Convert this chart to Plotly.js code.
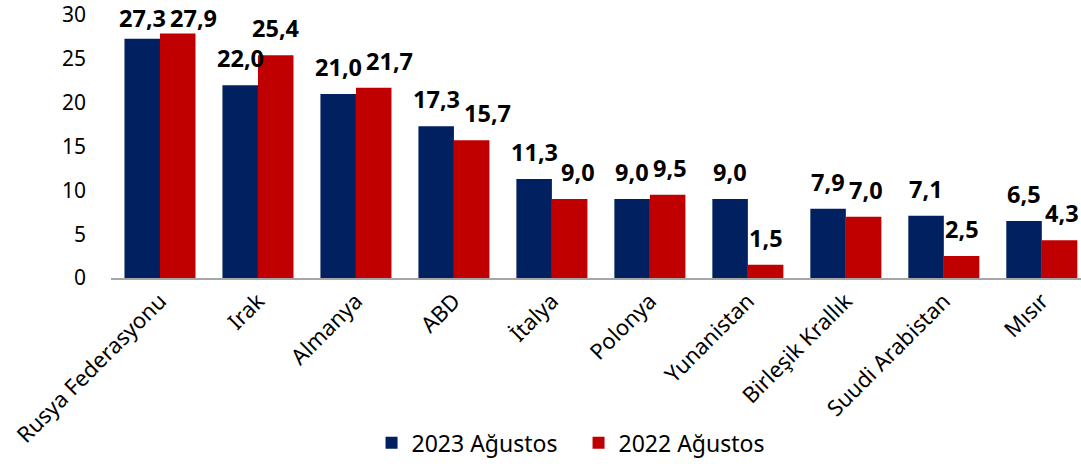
<!DOCTYPE html>
<html><head><meta charset="utf-8">
<script src="https://cdn.plot.ly/plotly-3.0.1.min.js"></script>
<style>html,body{margin:0;padding:0;background:#fff}#c{width:1081px;height:466px}</style>
</head><body><div id="c"></div>
<script>
const categories = ["Rusya Federasyonu","Irak","Almanya","ABD","İtalya","Polonya","Yunanistan","Birleşik Krallık","Suudi Arabistan","Mısır"];
const series2023 = [27.3,22.0,21.0,17.3,11.3,9.0,9.0,7.9,7.1,6.5];
const series2022 = [27.9,25.4,21.7,15.7,9.0,9.5,1.5,7.0,2.5,4.3];
const seriesNames = ["2023 Ağustos","2022 Ağustos"];
const colors = ['#002060','#C00000'];
const yTicks = [0,5,10,15,20,25,30];
const fmt = v => v.toFixed(1).replace('.', ',');
const font = "Noto Sans, Open Sans, sans-serif";

// layout geometry
const W = 1081, H = 466, M = {l:111, r:0, t:15, b:188};
const yMax = 30, xRange = [-0.5, 9.4], bargap = 0.275;
const plotW = W - M.l - M.r, plotH = H - M.t - M.b;
const ppu = plotH / yMax;
const pxPerCat = plotW / (xRange[1] - xRange[0]);
const off = (1 - bargap) / 4;           // bar centre offset in category units
const barPx = off * 2 * pxPerCat;       // distance between paired bar centres
const LBL = 23.5, GAP = 9, TOPLIMIT = 36;

const ctx = document.createElement('canvas').getContext('2d');
ctx.font = 'bold ' + LBL + 'px "Noto Sans"';
const tw = s => ctx.measureText(s).width;

const annotations = [];
categories.forEach((c, i) => {
  const vals = [series2023[i], series2022[i]];
  const lab = vals.map(v => {
    const top = M.t + plotH - v * ppu;
    const bottom = Math.max(top - GAP, TOPLIMIT);
    return {v, top, bottom, text: fmt(v), w: tw(fmt(v))};
  });
  let dx = [0, 0];
  if (Math.abs(lab[0].bottom - lab[1].bottom) < 22) {
    const need = (lab[0].w + lab[1].w) / 2 + 4 - barPx;
    if (need > 0) dx[1] = need;
  }
  lab.forEach((L, s) => {
    annotations.push({x: i + (s === 0 ? -off : off), y: L.v, xref:'x', yref:'y',
      text: L.text, showarrow:false, xanchor:'center', yanchor:'bottom',
      xshift: dx[s], yshift: L.top - L.bottom,
      font:{family:font, size:LBL, color:'#000', weight:'bold'}});
  });
});

const data = seriesNames.map((n, s) => ({type:'bar', x:categories, y: s === 0 ? series2023 : series2022,
  name:n, marker:{color:colors[s]}, hoverinfo:'skip'}));

const layout = {
  width:W, height:H, margin:M,
  paper_bgcolor:'#fff', plot_bgcolor:'#fff',
  barmode:'group', bargap:bargap, bargroupgap:0,
  font:{family:font, size:18, color:'#000'},
  xaxis:{range:xRange, tickangle:-45, showline:true, linecolor:'#a6a6a6', linewidth:1.5, ticks:'', showgrid:false, tickfont:{size:22}},
  yaxis:{range:[0,yMax], tickvals:yTicks, showgrid:false, zeroline:false, showline:false, ticks:'', tickfont:{size:21}, ticklabelstandoff:24},
  legend:{orientation:'h', x:0.482, xanchor:'center', y:-0.627, yanchor:'middle', font:{size:23}, itemwidth:30, entrywidth:162, traceorder:'normal'},
  annotations: annotations,
  showlegend:true
};
Plotly.newPlot('c', data, layout, {displayModeBar:false, staticPlot:true});
</script></body></html>
